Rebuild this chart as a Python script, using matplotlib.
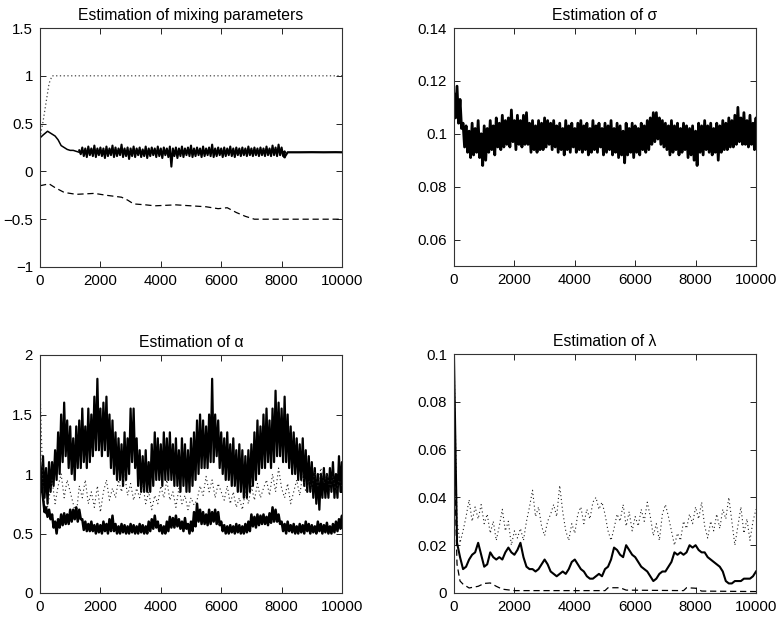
import numpy as np
import matplotlib
matplotlib.use("Agg")
import matplotlib.pyplot as plt

plt.rcParams['font.family'] = ['Liberation Sans', 'DejaVu Sans']

# ---------------- data ----------------
xticks = [0, 2000, 4000, 6000, 8000, 10000]
titles = ["Estimation of mixing parameters", "Estimation of σ",
          "Estimation of α", "Estimation of λ"]

# Panel 1: mixing parameters
mix_dot_x = [0, 100, 200, 300, 400, 10000]
mix_dot_y = [0.35, 0.52, 0.72, 0.92, 1.0, 1.0]
mix_sol_x = [0, 100, 250, 400, 500, 600, 700, 800, 900, 1000, 1100, 1200, 1300]
mix_sol_y = [0.35, 0.38, 0.42, 0.39, 0.37, 0.33, 0.27, 0.25, 0.23, 0.22, 0.22, 0.21, 0.20]
mix_band_x = np.arange(1300, 8101, 100)
mix_band_hi = [0.22, 0.25, 0.24, 0.26, 0.24, 0.27, 0.24, 0.25, 0.24, 0.26, 0.24, 0.27,
               0.25, 0.24, 0.28, 0.24, 0.25, 0.24, 0.26, 0.24, 0.25, 0.23, 0.26, 0.24,
               0.25, 0.24, 0.26, 0.24, 0.25, 0.24, 0.26, 0.24, 0.25, 0.24, 0.26, 0.24,
               0.25, 0.27, 0.24, 0.25, 0.24, 0.26, 0.24, 0.25, 0.28, 0.24, 0.25, 0.24,
               0.25, 0.24, 0.26, 0.24, 0.25, 0.24, 0.25, 0.24, 0.26, 0.24, 0.25, 0.24,
               0.25, 0.24, 0.26, 0.24, 0.27, 0.25, 0.28, 0.25, 0.21]
mix_band_lo = [0.18, 0.16, 0.15, 0.17, 0.16, 0.15, 0.17, 0.16, 0.14, 0.16, 0.17, 0.15,
               0.16, 0.17, 0.15, 0.16, 0.13, 0.16, 0.15, 0.17, 0.15, 0.16, 0.14, 0.16,
               0.17, 0.15, 0.16, 0.14, 0.17, 0.15, 0.05, 0.16, 0.14, 0.16, 0.15, 0.17,
               0.16, 0.15, 0.16, 0.17, 0.15, 0.16, 0.17, 0.16, 0.15, 0.16, 0.17, 0.15,
               0.16, 0.17, 0.16, 0.15, 0.17, 0.16, 0.17, 0.16, 0.17, 0.16, 0.17, 0.16,
               0.17, 0.16, 0.17, 0.16, 0.17, 0.16, 0.17, 0.16, 0.15]
mix_tail_x = [8100, 8200, 8600, 9000, 9400, 9800, 10000]
mix_tail_y = [0.15, 0.20, 0.20, 0.201, 0.20, 0.201, 0.20]
mix_dash_x = [0, 300, 500, 800, 1200, 1800, 2200, 2700, 2900, 3100, 3500, 3800, 4500,
              5000, 5500, 5900, 6200, 6500, 6800, 7100, 10000]
mix_dash_y = [-0.15, -0.13, -0.17, -0.22, -0.24, -0.23, -0.25, -0.27, -0.30, -0.34,
              -0.35, -0.36, -0.35, -0.36, -0.37, -0.39, -0.38, -0.43, -0.47, -0.5, -0.5]

# Panel 2: sigma (upper / lower swing every 100 iterations)
grid100 = np.arange(0, 10001, 100)
sig_hi = [0.115, 0.118, 0.113, 0.104, 0.103, 0.101, 0.104, 0.102, 0.105, 0.100,
          0.103, 0.102, 0.105, 0.103, 0.106, 0.104, 0.107, 0.105, 0.106, 0.109,
          0.105, 0.107, 0.105, 0.107, 0.108, 0.104, 0.105, 0.103, 0.105, 0.104,
          0.106, 0.105, 0.104, 0.105, 0.103, 0.104, 0.102, 0.105, 0.103, 0.104,
          0.102, 0.104, 0.105, 0.103, 0.104, 0.102, 0.105, 0.103, 0.104, 0.102,
          0.104, 0.103, 0.105, 0.102, 0.104, 0.103, 0.101, 0.104, 0.102, 0.104,
          0.103, 0.102, 0.104, 0.103, 0.105, 0.106, 0.108, 0.108, 0.106, 0.105,
          0.104, 0.103, 0.105, 0.103, 0.104, 0.102, 0.104, 0.103, 0.102, 0.103,
          0.101, 0.104, 0.103, 0.105, 0.103, 0.104, 0.102, 0.104, 0.103, 0.105,
          0.104, 0.106, 0.105, 0.107, 0.110, 0.106, 0.108, 0.105, 0.107, 0.104, 0.106]
sig_lo = [0.106, 0.104, 0.102, 0.095, 0.093, 0.091, 0.092, 0.093, 0.091, 0.088,
          0.090, 0.093, 0.094, 0.092, 0.095, 0.094, 0.095, 0.096, 0.095, 0.097,
          0.094, 0.096, 0.095, 0.096, 0.096, 0.093, 0.094, 0.093, 0.094, 0.094,
          0.095, 0.096, 0.094, 0.095, 0.093, 0.094, 0.092, 0.094, 0.093, 0.095,
          0.093, 0.094, 0.093, 0.094, 0.092, 0.093, 0.094, 0.093, 0.095, 0.092,
          0.093, 0.094, 0.092, 0.093, 0.091, 0.092, 0.089, 0.092, 0.093, 0.091,
          0.093, 0.092, 0.094, 0.093, 0.094, 0.096, 0.097, 0.098, 0.096, 0.095,
          0.094, 0.092, 0.093, 0.094, 0.092, 0.093, 0.094, 0.091, 0.092, 0.090,
          0.088, 0.093, 0.092, 0.094, 0.093, 0.092, 0.093, 0.090, 0.093, 0.094,
          0.094, 0.095, 0.095, 0.096, 0.097, 0.096, 0.096, 0.095, 0.096, 0.094, 0.095]

# Panel 3: alpha
alpha_top_hi = [1.10, 1.15, 1.05, 1.10, 1.10, 1.20, 1.35, 1.50, 1.60, 1.45,
                1.40, 1.30, 1.40, 1.45, 1.55, 1.40, 1.55, 1.50, 1.65, 1.80,
                1.55, 1.60, 1.65, 1.50, 1.45, 1.35, 1.30, 1.25, 1.35, 1.30,
                1.55, 1.55, 1.30, 1.20, 1.15, 1.20, 1.10, 1.25, 1.35, 1.30,
                1.25, 1.35, 1.30, 1.35, 1.25, 1.30, 1.20, 1.30, 1.25, 1.20,
                1.30, 1.35, 1.45, 1.50, 1.45, 1.40, 1.50, 1.80, 1.50, 1.45,
                1.35, 1.30, 1.35, 1.25, 1.30, 1.20, 1.25, 1.20, 1.15, 1.20,
                1.25, 1.35, 1.45, 1.40, 1.50, 1.55, 1.45, 1.55, 1.70, 1.60,
                1.55, 1.65, 1.50, 1.40, 1.35, 1.30, 1.25, 1.30, 1.20, 1.15,
                1.10, 1.05, 1.00, 1.00, 1.05, 1.00, 1.05, 1.10, 1.00, 1.15, 1.10]
alpha_top_lo = [0.85, 0.80, 0.75, 0.85, 0.90, 0.95, 1.00, 1.10, 1.15, 1.05,
                1.00, 0.95, 1.05, 1.05, 1.10, 1.05, 1.10, 1.15, 1.20, 1.20,
                1.15, 1.20, 1.15, 1.05, 1.00, 0.95, 0.95, 0.90, 0.95, 1.00,
                1.10, 1.05, 0.90, 0.85, 0.85, 0.85, 0.85, 0.90, 0.95, 0.95,
                0.90, 0.95, 0.95, 0.95, 0.90, 0.90, 0.85, 0.90, 0.85, 0.85,
                0.90, 0.95, 1.00, 1.05, 1.05, 1.05, 1.10, 1.10, 1.15, 1.05,
                1.00, 0.95, 0.95, 0.90, 0.90, 0.85, 0.85, 0.80, 0.80, 0.85,
                0.90, 0.95, 1.00, 1.05, 1.05, 1.10, 1.05, 1.10, 1.15, 1.15,
                1.10, 1.10, 1.05, 1.00, 1.00, 0.95, 0.95, 0.90, 0.85, 0.85,
                0.80, 0.75, 0.70, 0.80, 0.80, 0.80, 0.85, 0.80, 0.80, 0.85, 0.85]
alpha_mid = [1.75, 0.85, 0.65, 0.80, 0.95, 0.75, 0.90, 1.00, 0.80, 0.95,
             0.85, 0.75, 0.65, 0.90, 0.80, 0.95, 0.75, 0.85, 0.72, 0.90,
             0.68, 0.85, 0.95, 0.78, 0.88, 0.80, 0.95, 0.85, 1.00, 0.82,
             0.92, 0.78, 0.88, 0.80, 0.92, 0.75, 0.85, 0.70, 0.82, 0.75,
             0.90, 0.80, 0.95, 0.78, 0.85, 0.72, 0.88, 0.75, 0.82, 0.70,
             0.80, 0.74, 0.78, 0.90, 0.82, 0.98, 0.85, 0.95, 0.80, 0.92,
             0.85, 0.78, 0.90, 0.75, 0.85, 0.72, 0.80, 0.70, 0.85, 0.75,
             0.90, 0.78, 0.92, 0.80, 0.88, 0.95, 0.82, 1.00, 0.85, 1.05,
             0.88, 0.80, 0.92, 0.75, 0.85, 0.95, 0.82, 1.00, 0.85, 0.95,
             0.88, 1.02, 0.90, 1.05, 0.92, 1.00, 0.88, 0.98, 0.85, 0.95, 0.90]
alpha_bot_hi = [1.00, 0.80, 0.72, 0.70, 0.66, 0.60, 0.62, 0.66, 0.67, 0.66,
                0.70, 0.70, 0.72, 0.70, 0.62, 0.60, 0.58, 0.60, 0.57, 0.58,
                0.57, 0.60, 0.58, 0.62, 0.65, 0.58, 0.56, 0.58, 0.57, 0.56,
                0.58, 0.57, 0.56, 0.58, 0.57, 0.56, 0.60, 0.62, 0.65, 0.60,
                0.57, 0.56, 0.60, 0.64, 0.63, 0.65, 0.62, 0.60, 0.63, 0.58,
                0.60, 0.68, 0.75, 0.70, 0.68, 0.66, 0.70, 0.68, 0.70, 0.68,
                0.60, 0.57, 0.56, 0.57, 0.56, 0.58, 0.57, 0.56, 0.58, 0.60,
                0.66, 0.64, 0.66, 0.65, 0.66, 0.64, 0.67, 0.72, 0.70, 0.66,
                0.60, 0.58, 0.60, 0.57, 0.58, 0.56, 0.58, 0.57, 0.60, 0.58,
                0.57, 0.56, 0.60, 0.58, 0.57, 0.59, 0.56, 0.58, 0.60, 0.62, 0.65]
alpha_bot_lo = [0.90, 0.68, 0.64, 0.62, 0.55, 0.50, 0.55, 0.57, 0.58, 0.58,
                0.60, 0.62, 0.60, 0.62, 0.53, 0.52, 0.52, 0.52, 0.50, 0.51,
                0.50, 0.52, 0.50, 0.52, 0.52, 0.50, 0.50, 0.51, 0.50, 0.50,
                0.51, 0.50, 0.50, 0.51, 0.50, 0.50, 0.52, 0.54, 0.55, 0.52,
                0.50, 0.50, 0.52, 0.55, 0.55, 0.56, 0.54, 0.52, 0.54, 0.50,
                0.52, 0.56, 0.60, 0.58, 0.58, 0.57, 0.58, 0.60, 0.58, 0.57,
                0.52, 0.50, 0.50, 0.51, 0.50, 0.51, 0.50, 0.50, 0.51, 0.52,
                0.56, 0.55, 0.57, 0.58, 0.58, 0.57, 0.59, 0.60, 0.60, 0.58,
                0.52, 0.50, 0.52, 0.51, 0.50, 0.50, 0.51, 0.50, 0.52, 0.50,
                0.51, 0.50, 0.52, 0.50, 0.51, 0.50, 0.50, 0.51, 0.52, 0.54, 0.55]

# Panel 4: lambda
lam_sol = [0.099, 0.021, 0.015, 0.010, 0.011, 0.014, 0.016, 0.017, 0.021, 0.016,
           0.011, 0.012, 0.017, 0.015, 0.014, 0.015, 0.014, 0.017, 0.019, 0.017,
           0.016, 0.018, 0.021, 0.015, 0.011, 0.010, 0.010, 0.009, 0.010, 0.012,
           0.014, 0.012, 0.009, 0.008, 0.007, 0.008, 0.009, 0.008, 0.010, 0.013,
           0.014, 0.012, 0.010, 0.009, 0.007, 0.006, 0.006, 0.007, 0.008, 0.007,
           0.010, 0.011, 0.014, 0.019, 0.018, 0.016, 0.015, 0.020, 0.018, 0.016,
           0.015, 0.013, 0.011, 0.010, 0.009, 0.007, 0.005, 0.006, 0.008, 0.009,
           0.009, 0.011, 0.013, 0.017, 0.016, 0.017, 0.016, 0.017, 0.020, 0.019,
           0.020, 0.018, 0.017, 0.017, 0.015, 0.014, 0.013, 0.012, 0.011, 0.009,
           0.005, 0.004, 0.004, 0.005, 0.005, 0.005, 0.006, 0.006, 0.006, 0.007, 0.009]
lam_dash_x = [0, 100, 200, 300, 500, 800, 1000, 1200, 1400, 1600, 2000, 5000, 5100,
              5500, 5700, 7600, 7700, 8000, 8200, 10000]
lam_dash_y = [0.06, 0.012, 0.005, 0.0037, 0.0021, 0.0028, 0.0040, 0.0042, 0.0028,
              0.0016, 0.0010, 0.0010, 0.0022, 0.0022, 0.0012, 0.0010, 0.0022, 0.0020,
              0.0008, 0.0006]
lam_dot = [0.100, 0.030, 0.021, 0.026, 0.032, 0.039, 0.030, 0.036, 0.031, 0.037,
           0.029, 0.033, 0.025, 0.030, 0.022, 0.028, 0.035, 0.026, 0.030, 0.020,
           0.026, 0.023, 0.027, 0.022, 0.030, 0.036, 0.043, 0.032, 0.036, 0.028,
           0.024, 0.030, 0.033, 0.037, 0.032, 0.045, 0.034, 0.026, 0.022, 0.029,
           0.025, 0.033, 0.036, 0.029, 0.035, 0.031, 0.038, 0.040, 0.035, 0.038,
           0.033, 0.026, 0.022, 0.027, 0.033, 0.030, 0.037, 0.028, 0.034, 0.026,
           0.032, 0.028, 0.035, 0.030, 0.038, 0.032, 0.024, 0.029, 0.022, 0.033,
           0.037, 0.032, 0.026, 0.020, 0.025, 0.022, 0.030, 0.027, 0.033, 0.029,
           0.036, 0.031, 0.038, 0.028, 0.023, 0.030, 0.026, 0.033, 0.027, 0.035,
           0.031, 0.040, 0.030, 0.020, 0.028, 0.036, 0.025, 0.031, 0.022, 0.030, 0.035]


def swing(x, hi, lo):
    """Trace that alternates between the read upper and lower swing values."""
    x = np.asarray(x, float)
    step = np.diff(x).min() / 2.0
    xs = np.empty(2 * len(x))
    ys = np.empty(2 * len(x))
    xs[0::2] = x
    xs[1::2] = np.minimum(x + step, x.max())
    ys[0::2] = hi
    ys[1::2] = lo
    return xs, ys


# ---------------- figure ----------------
fig = plt.figure(figsize=(7.8, 6.21), dpi=100)
W, H = 780.0, 621.0
def axes_px(l, t, r, b):
    return fig.add_axes([l / W, 1 - b / H, (r - l) / W, (b - t) / H])

ax1 = axes_px(40, 28, 342, 267)
ax2 = axes_px(454, 28, 756, 266)
ax3 = axes_px(40, 355, 342, 593)
ax4 = axes_px(454, 354, 756, 593)

FS = 10.8
for ax, t in zip([ax1, ax2, ax3, ax4], titles):
    ax.set_title(t, fontsize=11.3, pad=6)
    ax.set_xlim(0, 10000)
    ax.set_xticks(xticks)
    ax.tick_params(direction='in', top=True, right=True, length=4, width=0.6,
                   labelsize=FS, pad=5)
    for s in ax.spines.values():
        s.set_linewidth(0.8)
        s.set_color('#333333')

K = 'black'
# panel 1
ax1.plot(mix_dot_x, mix_dot_y, color='#444444', lw=0.9, ls=(0, (1, 2)))
ax1.plot(mix_sol_x, mix_sol_y, color=K, lw=1.1)
ax1.plot(*swing(mix_band_x, mix_band_hi, mix_band_lo), color=K, lw=1.5)
ax1.plot(mix_tail_x, mix_tail_y, color=K, lw=1.6)
ax1.plot(mix_dash_x, mix_dash_y, color=K, lw=0.9, ls=(0, (5, 3)))
ax1.set_ylim(-1, 1.5)
ax1.set_yticks([-1, -0.5, 0, 0.5, 1, 1.5])
ax1.set_yticklabels(['−1', '−0.5', '0', '0.5', '1', '1.5'])

# panel 2
ax2.plot(*swing(grid100, sig_hi, sig_lo), color=K, lw=2.0)
ax2.set_ylim(0.05, 0.14)
ax2.set_yticks([0.06, 0.08, 0.1, 0.12, 0.14])
ax2.set_yticklabels(['0.06', '0.08', '0.1', '0.12', '0.14'])

# panel 3
ax3.plot(*swing(grid100, alpha_top_hi, alpha_top_lo), color=K, lw=1.6)
ax3.plot(grid100, alpha_mid, color='#222222', lw=0.8, ls=(0, (1, 2.5)))
ax3.plot(*swing(grid100, alpha_bot_hi, alpha_bot_lo), color=K, lw=1.8)
ax3.set_ylim(0, 2)
ax3.set_yticks([0, 0.5, 1, 1.5, 2])
ax3.set_yticklabels(['0', '0.5', '1', '1.5', '2'])

# panel 4
ax4.plot(grid100, lam_dot, color='#222222', lw=0.8, ls=(0, (1, 2.5)))
ax4.plot(grid100, lam_sol, color=K, lw=1.5)
ax4.plot(lam_dash_x, lam_dash_y, color=K, lw=0.9, ls=(0, (5, 3)))
ax4.set_ylim(0, 0.1)
ax4.set_yticks([0, 0.02, 0.04, 0.06, 0.08, 0.1])
ax4.set_yticklabels(['0', '0.02', '0.04', '0.06', '0.08', '0.1'])

fig.savefig('out.png', dpi=100)
